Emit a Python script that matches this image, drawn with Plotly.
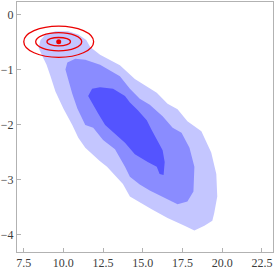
import plotly.graph_objects as go

# contour level outlines (data units)
outer_x = [8.44, 8.56, 8.88, 9.50, 10.31, 10.94, 11.44, 11.69, 12.31, 13.56, 14.50, 15.31, 15.88, 16.56,
           17.19, 17.81, 18.69, 18.88, 19.31, 19.63, 19.69, 19.50, 19.38, 18.88, 18.25, 17.63, 16.56,
           15.56, 14.69, 14.19, 13.75, 13.25, 12.75, 12.31, 11.88, 11.38, 10.94, 10.56, 10.00, 9.50,
           9.19, 8.94, 8.69]
outer_y = [-0.60, -0.46, -0.36, -0.30, -0.30, -0.36, -0.46, -0.59, -0.73, -0.92, -1.17, -1.32, -1.42, -1.62,
           -1.72, -1.94, -2.12, -2.24, -2.51, -2.90, -3.31, -3.61, -3.75, -3.84, -3.93, -3.84, -3.70,
           -3.54, -3.40, -3.31, -3.08, -2.92, -2.77, -2.67, -2.56, -2.42, -2.24, -2.01, -1.71, -1.40,
           -1.12, -0.91, -0.76]

middle_x = [10.13, 10.25, 10.75, 11.38, 12.31, 13.56, 14.19, 14.81, 15.44, 16.25, 16.88, 17.44, 17.94,
            18.25, 18.19, 17.81, 17.19, 16.38, 15.44, 14.81, 14.19, 13.88, 13.25, 12.50, 11.88, 11.38,
            10.88, 10.56, 10.31]
middle_y = [-1.00, -0.87, -0.80, -0.82, -0.91, -1.12, -1.35, -1.53, -1.64, -1.85, -2.06, -2.15, -2.42,
            -2.77, -3.22, -3.40, -3.45, -3.34, -3.20, -3.09, -2.95, -2.77, -2.45, -2.28, -2.06, -2.01,
            -1.71, -1.44, -1.21]

inner_x = [11.56, 11.81, 12.31, 13.13, 13.88, 14.19, 14.69, 15.25, 15.56, 15.94, 16.25, 16.38, 16.31,
           16.06, 15.88, 15.31, 14.50, 13.88, 13.25, 12.63, 12.19, 11.81]
inner_y = [-1.48, -1.35, -1.32, -1.35, -1.48, -1.60, -1.74, -1.92, -2.10, -2.29, -2.47, -2.68, -2.92,
           -2.90, -2.77, -2.68, -2.54, -2.33, -2.17, -2.01, -1.80, -1.62]

# red ellipses (reference point and its confidence levels)
ref_x = 9.706
ref_y = -0.492
ellipse_rx = [0.74, 1.45, 2.20]
ellipse_ry = [0.077, 0.165, 0.284]

x_ticks = [7.5, 10.0, 12.5, 15.0, 17.5, 20.0, 22.5]
x_labels = ["7.5", "10.0", "12.5", "15.0", "17.5", "20.0", "22.5"]
y_ticks = [0, -1, -2, -3, -4]
y_labels = ["0", "\u22121", "\u22122", "\u22123", "\u22124"]

label_font = dict(family="Liberation Serif", size=12, color="rgb(60,60,60)")

fig = go.Figure()
for xs, ys, col in [(outer_x, outer_y, "rgb(196,198,255)"),
                    (middle_x, middle_y, "rgb(138,140,255)"),
                    (inner_x, inner_y, "rgb(84,84,255)")]:
    fig.add_trace(go.Scatter(x=xs + xs[:1], y=ys + ys[:1], fill="toself", fillcolor=col,
                             mode="lines", line=dict(width=0, color=col), hoverinfo="skip",
                             showlegend=False))

fig.add_trace(go.Scatter(x=[ref_x], y=[ref_y], mode="markers",
                         marker=dict(color="rgb(235,0,0)", size=5), showlegend=False))

for rx, ry in zip(ellipse_rx, ellipse_ry):
    fig.add_shape(type="circle", xref="x", yref="y",
                  x0=ref_x - rx, x1=ref_x + rx, y0=ref_y - ry, y1=ref_y + ry,
                  line=dict(color="rgb(235,0,0)", width=1.3), layer="above")

axis_common = dict(showgrid=False, zeroline=False, showline=True, mirror=True,
                   linecolor="rgb(178,178,178)", linewidth=1, ticks="inside", ticklen=4,
                   tickwidth=1, tickcolor="rgb(178,178,178)", tickfont=label_font)

fig.update_layout(
    width=275, height=271,
    margin=dict(l=17, r=2, t=1, b=14),
    paper_bgcolor="white", plot_bgcolor="white",
    xaxis=dict(range=[7.08, 23.2], tickvals=x_ticks, ticktext=x_labels, **axis_common),
    yaxis=dict(range=[-4.32, 0.231], tickvals=y_ticks, ticktext=y_labels, **axis_common),
)

fig.write_html("out.html", config={"displayModeBar": False},
               post_script="document.body.style.margin='0px';")
